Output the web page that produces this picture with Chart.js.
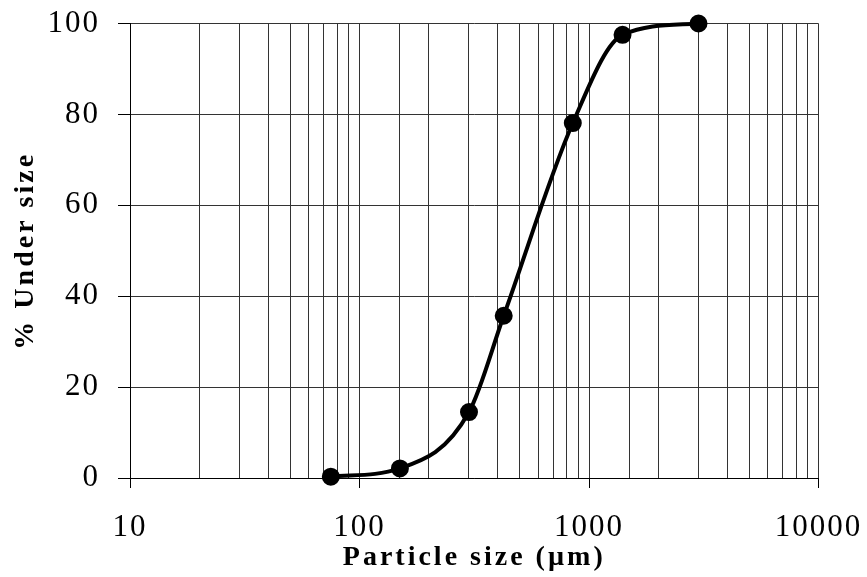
<!DOCTYPE html>
<html>
<head>
<meta charset="utf-8">
<script src="https://cdn.jsdelivr.net/npm/chart.js@4/dist/chart.umd.min.js"></script>
<style>
  body { margin: 0; background: #fff; }
  canvas { display: block; }
</style>
</head>
<body>
<canvas id="psdChart" width="867" height="577"></canvas>
<script>
var sizes = [75, 150, 300, 425, 850, 1400, 3000];
var underSize = [0.3, 2.1, 14.5, 35.7, 78.1, 97.5, 100];
var xTickLabels = [10, 100, 1000, 10000];

var points = sizes.map(function (s, i) { return { x: s, y: underSize[i] }; });

function isDecade(v) {
	return xTickLabels.indexOf(Math.round(v)) !== -1;
}

// no letterSpacing option in Chart.js, so set it on the context:
// titles are drawn with the grid, tick labels (z:1) after the datasets
var spacingPlugin = {
	id: "spacing",
	beforeDraw: function (chart) { chart.ctx.letterSpacing = "3px"; },
	afterDatasetsDraw: function (chart) { chart.ctx.letterSpacing = "2px"; }
};

var psdChart = new Chart("psdChart", {
	type: "line",
	data: {
		datasets: [{
			data: points,
			borderColor: "#000",
			backgroundColor: "#000",
			borderWidth: 4,
			pointRadius: 7,
			pointHoverRadius: 7,
			cubicInterpolationMode: "monotone",
			clip: false
		}]
	},
	options: {
		responsive: false,
		animation: false,
		events: [],
		layout: { padding: { left: 0, right: 48.5, top: 23.5, bottom: 0 } },
		plugins: { legend: { display: false }, tooltip: { enabled: false } },
		scales: {
			x: {
				type: "logarithmic",
				min: 10,
				max: 10000,
				afterFit: function (scale) {
					scale.height = 99;
					scale.paddingLeft = 0;
					scale.paddingRight = 0;
				},
				border: { color: "#000", width: 1 },
				grid: {
					color: "#333",
					lineWidth: 1,
					tickLength: 10,
					tickColor: function (ctx) { return isDecade(ctx.tick.value) ? "#000" : "rgba(0,0,0,0)"; }
				},
				ticks: {
					z: 1,
					autoSkip: false,
					maxRotation: 0,
					padding: 21,
					color: "#000",
					font: { family: "Liberation Serif", size: 31 },
					callback: function (v) { return isDecade(v) ? String(Math.round(v)) : ""; }
				},
				title: {
					display: true,
					text: "Particle size (\u00b5m)",
					color: "#000",
					font: { family: "Liberation Serif", size: 28, weight: "bold" },
					padding: { top: 0, bottom: 2 }
				}
			},
			y: {
				min: 0,
				max: 100,
				afterFit: function (scale) {
					scale.width = 130;
					scale.paddingTop = 0;
					scale.paddingBottom = 0;
				},
				border: { color: "#000", width: 1 },
				grid: { color: "#333", lineWidth: 1, tickLength: 12, tickColor: "#000" },
				ticks: {
					z: 1,
					stepSize: 20,
					padding: 18,
					color: "#000",
					font: { family: "Liberation Serif", size: 31 }
				},
				title: {
					display: true,
					text: "% Under size",
					color: "#000",
					font: { family: "Liberation Serif", size: 28, weight: "bold" },
					padding: { top: 9, bottom: 0 }
				}
			}
		}
	},
	plugins: [spacingPlugin]
});
</script>
</body>
</html>
